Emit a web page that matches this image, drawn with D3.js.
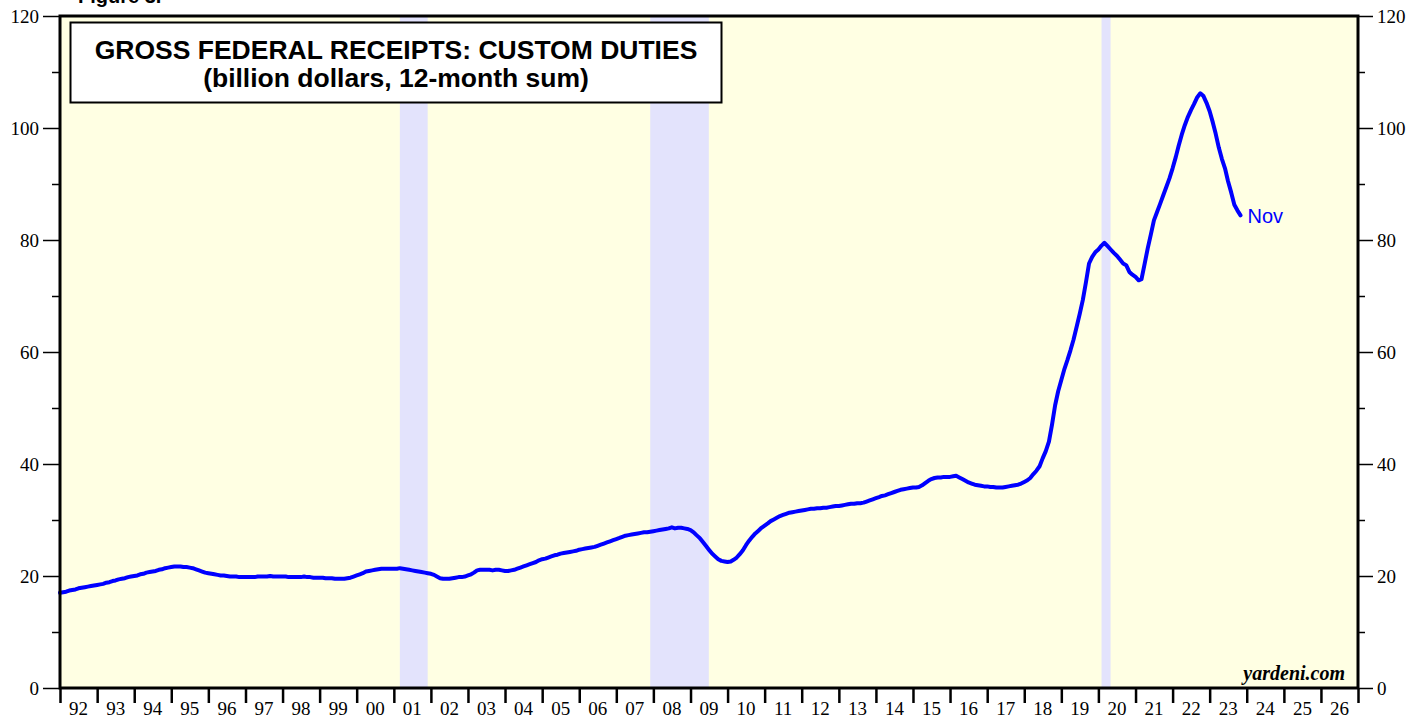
<!DOCTYPE html>
<html>
<head>
<meta charset="utf-8">
<script src="https://cdn.jsdelivr.net/npm/d3@7"></script>
<style>
  html, body { margin: 0; padding: 0; background: #ffffff; }
  svg { display: block; }
</style>
</head>
<body>
<script>
// ---------- DATA ----------
const startYear = 1992;
const endYear = 2027;
const yTickValues = [0, 20, 40, 60, 80, 100, 120];
const yMinorValues = [10, 30, 50, 70, 90, 110];
const yearLabels = ["92","93","94","95","96","97","98","99","00","01","02","03","04","05","06","07","08","09","10","11","12","13","14","15","16","17","18","19","20","21","22","23","24","25","26"];
const recessions = [["2001-03-01","2001-11-30"],["2007-12-01","2009-06-30"],["2020-02-01","2020-04-30"]];
const seriesStart = "1992-01-01";
// monthly values, billion dollars, 12-month sum
const customDuties = [
  17.0,17.1,17.2,17.4,17.5,17.6,17.8,17.9,18.0,18.1,18.2,18.3,
  18.4,18.5,18.6,18.8,18.9,19.1,19.2,19.4,19.5,19.6,19.8,19.9,
  20.0,20.1,20.3,20.4,20.6,20.7,20.8,20.9,21.1,21.2,21.4,21.5,
  21.6,21.7,21.7,21.7,21.6,21.6,21.5,21.4,21.2,21.0,20.8,20.6,
  20.5,20.4,20.3,20.2,20.1,20.1,20.0,19.9,19.9,19.9,19.8,19.8,
  19.8,19.8,19.8,19.8,19.9,19.9,19.9,19.9,20.0,19.9,19.9,19.9,
  19.9,19.9,19.8,19.8,19.8,19.8,19.8,19.9,19.8,19.8,19.7,19.7,
  19.7,19.7,19.6,19.6,19.6,19.5,19.5,19.5,19.5,19.6,19.7,19.9,
  20.1,20.3,20.5,20.8,20.9,21.0,21.1,21.2,21.3,21.3,21.3,21.3,
  21.3,21.3,21.4,21.3,21.2,21.1,21.0,20.9,20.8,20.7,20.6,20.5,
  20.4,20.2,19.9,19.6,19.5,19.5,19.5,19.6,19.7,19.8,19.8,19.9,
  20.1,20.3,20.6,21.0,21.1,21.1,21.1,21.1,21.0,21.1,21.1,21.0,
  20.9,20.9,21.0,21.1,21.3,21.5,21.7,21.9,22.1,22.3,22.5,22.8,
  23.0,23.1,23.3,23.5,23.7,23.8,24.0,24.1,24.2,24.3,24.4,24.5,
  24.7,24.8,24.9,25.0,25.1,25.2,25.4,25.6,25.8,26.0,26.2,26.4,
  26.6,26.8,27.0,27.2,27.3,27.4,27.5,27.6,27.7,27.8,27.8,27.9,
  28.0,28.1,28.2,28.3,28.4,28.5,28.7,28.5,28.6,28.6,28.5,28.4,
  28.2,27.8,27.3,26.8,26.1,25.4,24.7,24.0,23.5,23.0,22.7,22.6,
  22.5,22.6,22.9,23.3,23.9,24.6,25.5,26.3,27.0,27.6,28.1,28.6,
  29.0,29.4,29.8,30.1,30.4,30.7,30.9,31.1,31.3,31.4,31.5,31.6,
  31.7,31.8,31.9,32.0,32.0,32.1,32.1,32.2,32.2,32.3,32.4,32.5,
  32.5,32.6,32.7,32.8,32.9,32.9,33.0,33.0,33.1,33.3,33.5,33.7,
  33.9,34.1,34.3,34.4,34.6,34.8,35.0,35.2,35.4,35.5,35.6,35.7,
  35.8,35.8,35.9,36.2,36.6,37.0,37.3,37.5,37.6,37.6,37.7,37.7,
  37.7,37.8,37.9,37.6,37.3,37.0,36.7,36.5,36.3,36.2,36.1,36.0,
  36.0,35.9,35.9,35.8,35.8,35.8,35.9,36.0,36.1,36.2,36.3,36.5,
  36.8,37.1,37.5,38.2,38.8,39.6,41.0,42.3,44.0,47.0,50.5,53.0,
  55.0,57.0,58.5,60.3,62.2,64.5,66.8,69.3,72.5,75.8,77.0,77.8,
  78.3,79.0,79.5,78.9,78.3,77.7,77.2,76.5,75.8,75.5,74.3,73.8,
  73.4,72.8,73.0,75.8,78.5,81.0,83.5,85.0,86.5,88.0,89.5,91.0,
  92.8,94.8,96.8,98.8,100.5,102.0,103.2,104.3,105.5,106.2,105.7,104.5,
  103.0,101.0,99.0,96.5,94.5,92.8,90.5,88.5,86.3,85.3,84.4
];
const titleLines = ["GROSS FEDERAL RECEIPTS: CUSTOM DUTIES", "(billion dollars, 12-month sum)"];
const lastLabel = "Nov";
const figureLabel = "Figure 3.";
const sourceLabel = "yardeni.com";

// ---------- LAYOUT ----------
const W = 1426, H = 719;
const L = 60, R = 1358, T = 16, B = 688;

const svg = d3.select("body").append("svg").attr("width", W).attr("height", H);

const parse = d3.timeParse("%Y-%m-%d");
const s0 = parse(seriesStart);
const data = customDuties.map((v, i) => ({ date: d3.timeMonth.offset(s0, i), value: v }));

const x = d3.scaleTime().domain([new Date(startYear, 0, 1), new Date(endYear, 0, 1)]).range([L, R]);
const y = d3.scaleLinear().domain([0, 120]).range([B, T]);

// figure label (cut at top, as in the reference)
svg.append("text").attr("x", 78).attr("y", 3)
  .attr("font-family", "Arial, 'Liberation Sans', sans-serif").attr("font-weight", "bold")
  .attr("font-size", 20).attr("fill", "#000").text(figureLabel);

// plot background
svg.append("rect").attr("x", L).attr("y", T).attr("width", R - L).attr("height", B - T).attr("fill", "#FFFFE3");

// recession bands
svg.append("g").selectAll("rect").data(recessions).join("rect")
  .attr("x", d => x(parse(d[0])))
  .attr("width", d => x(parse(d[1])) - x(parse(d[0])))
  .attr("y", T).attr("height", B - T)
  .attr("fill", "#E3E3FC");

// title box
svg.append("rect").attr("x", 70.5).attr("y", 22.5).attr("width", 651).attr("height", 80)
  .attr("fill", "#fff").attr("stroke", "#000").attr("stroke-width", 2);
svg.append("text").attr("x", 396).attr("y", 59).attr("text-anchor", "middle")
  .attr("font-family", "Arial, 'Liberation Sans', sans-serif").attr("font-weight", "bold")
  .attr("font-size", 26.5).text(titleLines[0]);
svg.append("text").attr("x", 396).attr("y", 87).attr("text-anchor", "middle")
  .attr("font-family", "Arial, 'Liberation Sans', sans-serif").attr("font-weight", "bold")
  .attr("font-size", 26.5).text(titleLines[1]);

// line
const line = d3.line().x(d => x(d.date)).y(d => y(d.value));
svg.append("path").datum(data).attr("d", line)
  .attr("fill", "none").attr("stroke", "#0000FF").attr("stroke-width", 4)
  .attr("stroke-linejoin", "round").attr("stroke-linecap", "round");

const last = data[data.length - 1];
svg.append("text").attr("x", x(last.date) + 7).attr("y", y(last.value) + 8)
  .attr("font-family", "Arial, 'Liberation Sans', sans-serif").attr("font-size", 20)
  .attr("fill", "#0000FF").text(lastLabel);

// source
svg.append("text").attr("x", 1345).attr("y", 680).attr("text-anchor", "end")
  .attr("font-family", "'Liberation Serif', 'Times New Roman', serif").attr("font-weight", "bold")
  .attr("font-style", "italic").attr("font-size", 20).text(sourceLabel);

// y axes
const serif = "'Liberation Serif', 'Times New Roman', serif";
const yLeft = d3.axisLeft(y).tickValues(yTickValues).tickSize(17).tickPadding(4);
const gL = svg.append("g").attr("transform", `translate(${L},0)`).call(yLeft);
const yRight = d3.axisRight(y).tickValues(yTickValues).tickSize(15).tickPadding(4);
const gR = svg.append("g").attr("transform", `translate(${R},0)`).call(yRight);
[gL, gR].forEach(g => {
  g.select(".domain").remove();
  g.selectAll(".tick line").attr("stroke", "#000").attr("stroke-width", 1.5);
  g.selectAll(".tick text").attr("font-family", serif).attr("font-size", 19).attr("fill", "#000");
});
const yMinL = d3.axisLeft(y).tickValues(yMinorValues).tickSize(8).tickFormat("");
const gML = svg.append("g").attr("transform", `translate(${L},0)`).call(yMinL);
const yMinR = d3.axisRight(y).tickValues(yMinorValues).tickSize(7).tickFormat("");
const gMR = svg.append("g").attr("transform", `translate(${R},0)`).call(yMinR);
[gML, gMR].forEach(g => {
  g.select(".domain").remove();
  g.selectAll(".tick line").attr("stroke", "#000").attr("stroke-width", 1.5);
});

// x axis ticks
const years = d3.range(startYear, endYear + 1).map(yy => new Date(yy, 0, 1));
const xAxis = d3.axisBottom(x).tickValues(years).tickSize(15).tickFormat("");
const gX = svg.append("g").attr("transform", `translate(0,${B})`).call(xAxis);
gX.select(".domain").remove();
gX.selectAll(".tick line").attr("stroke", "#000").attr("stroke-width", 2.5);

// x labels centered in each year
svg.append("g").selectAll("text").data(yearLabels).join("text")
  .attr("x", (d, i) => (x(new Date(startYear + i, 0, 1)) + x(new Date(startYear + i + 1, 0, 1))) / 2)
  .attr("y", 715).attr("text-anchor", "middle")
  .attr("font-family", serif).attr("font-size", 19).attr("fill", "#000").text(d => d);

// plot frame
svg.append("rect").attr("x", L).attr("y", T).attr("width", R - L).attr("height", B - T)
  .attr("fill", "none").attr("stroke", "#000").attr("stroke-width", 3);
</script>
</body>
</html>
